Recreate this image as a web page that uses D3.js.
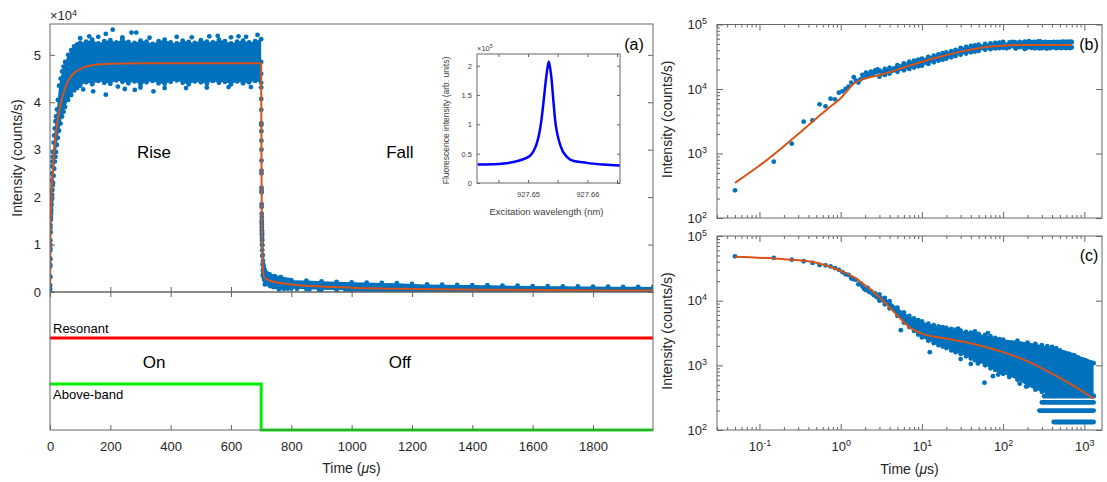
<!DOCTYPE html>
<html>
<head>
<meta charset="utf-8">
<script src="https://cdn.jsdelivr.net/npm/d3@7/dist/d3.min.js"></script>
<style>
html, body { margin: 0; padding: 0; background: #fff; }
svg { display: block; font-family: "Liberation Sans", Arial, Helvetica, sans-serif; }
</style>
</head>
<body>
<svg id="fig" width="1107" height="482"></svg>
<script>
// ---------------- data ----------------
// Rise (laser on at t = 0): first bins, 0.1 us apart
const riseEarlyT = [0.05,0.15,0.25,0.35,0.45,0.55,0.65,0.75,0.85,0.95,1.05,1.15,1.25,1.35,1.45,1.55,1.65,1.75,1.85,1.95,2.05,2.15,2.25,2.35,2.45,2.55,2.65,2.75,2.85,2.95];
const riseEarlyV = [269,747,1419,3110,3270,5790,5380,7070,6920,8770,9200,10000,10900,12600,15200,13500,12600,14100,16500,15200,17900,15900,16800,18500,17000,18000,19500,18300,20200,18800];
// Rise: spread (upper / lower edge) of the dense part of the trace
const riseBandT  = [3,3.5,4,5,6,7,8,9,10,12,14,16,18,20,23,26,30,35,40,45,50,60,70,80,90,100,
                    120,140,160,180,200,220,240,260,280,300,320,340,360,380,400,420,440,460,480,500,520,540,560,580,600,620,640,660,680,700];
const riseBandHi = [19500,20500,21500,23500,25000,26500,27500,28500,29500,31500,33000,34500,36000,37000,38500,40500,43500,45000,46500,47500,48500,50000,51000,51800,52200,52500,
                    52800,53200,52400,52900,53100,52600,53300,52700,52500,53000,52800,52300,52900,53200,52600,52400,53000,52700,52500,53100,52800,52600,53200,52900,52400,52800,53000,52600,52900,53300];
const riseBandLo = [15500,16500,17300,18500,19500,20500,21500,22500,23000,24500,26000,27500,28500,29500,31000,32500,34000,35500,37000,38000,39000,40500,41500,42500,43000,43500,
                    44200,43800,44500,44100,43900,44600,44300,44000,44400,43700,44200,44500,44000,43900,44300,44600,44100,43800,44400,44200,43900,44500,44100,44300,43800,44400,44000,44200,44500,44100];
const riseOutT = [100,130,160,185,208,240,270,286,330,420,470,528,556,600,625,650,688,110,143,185,225,248,281,300,343,380,451,520,592,666];
const riseOutV = [53500,53900,53800,54400,55300,53700,54700,54700,53600,53800,53700,53900,54000,53700,53900,53800,54200,42700,42300,41600,43300,42800,42600,43100,42300,43000,43000,43100,43200,43200];
// Rise fit
const riseFitT = [0.05,0.1,0.2,0.3,0.5,0.7,1,1.5,2,3,5,7,10,15,20,30,50,70,100,150,200,300,700];
const riseFitV = [350,650,1300,2000,3500,5000,7200,12500,14500,16500,20000,23000,26500,30500,33500,38000,43000,45500,47000,47900,48100,48200,48200];

// Fall (resonant laser kept on, above-band laser off at t = 700 us), time after switch-off
const switchOff = 700;
const fallEarlyT = [0.05,0.15,0.25,0.35,0.45,0.55,0.65,0.75,0.85,0.95,1.05,1.15,1.25,1.35,1.45,1.55,1.65,1.75,1.85,1.95,2.05,2.15,2.25,2.35,2.45,2.55,2.65,2.75,2.85,2.95];
const fallEarlyV = [48500,46000,43100,40700,38400,35600,35200,33900,31900,30000,27700,25600,25000,22000,21400,21000,17900,18500,16500,15100,14600,15800,13600,14200,12900,12200,13000,11500,12000,10800];
const fallBandT  = [3,3.5,4,5,6,7,8,9,10,12,14,16,18,20,23,26,30,35,40,45,50,60,70,80,90,100,150,200,250,300,350,400,450,500,550,600,650,700,750,800,850,900,950,1000,1050,1100,1150,1200,1250,1300];
const fallBandHi = [12500,11000,9800,7800,6600,5800,5300,5000,4800,4400,4200,4000,3900,3800,3650,3550,3450,3300,3200,3100,3050,2950,2800,2650,2550,2500,2400,2250,2150,2050,1980,1920,1850,1700,1600,1550,1500,1450,1420,1350,1320,1250,1230,1200,1180,1150,1120,1100,1090,1080];
const fallBandLo = [10000,8800,7600,5800,4600,3900,3400,3000,2700,2400,2200,2050,1950,1850,1700,1600,1500,1380,1280,1200,1120,1000,900,850,790,740,600,480,420,390,360,345,340,340,340,340,340,340,340,340,340,340,340,340,340,340,340,340,340,340];
const fallOutT = [5.5,12.5,28,30,40,45,49,59,65,75,87,119,160,192];
const fallOutV = [3500,1600,3700,1250,1050,3350,1070,540,3150,680,720,660,520,470];
// Quantised low-count levels at long delays
const fallLevelV     = [333,267,200,133];
const fallLevelStart = [320,300,280,420];
const fallLevelEnd   = [1300,1300,1300,1300];
// Fall fit
const fallFitT = [0.05,0.2,0.5,1,1.5,2,3,4,5,7,10,20,50,100,200,300,500,700,1000,1300];
const fallFitV = [47800,43700,38500,29000,22500,17200,11300,7900,5900,3900,3100,2600,2050,1600,1150,900,640,500,380,305];

// Laser sequence
const resonantT = [0,1999];
const resonantLevel = [2,2];
const aboveBandT = [0,700,700,1999];
const aboveBandLevel = [1,1,0,0];

// Inset: excitation spectrum
const insetWl = [927.6415,927.6459,927.6487,927.6504,927.6512,927.6518,927.6522,927.6526,927.6531,927.6535,927.6539,927.6543,927.6547,927.6553,927.656,927.6571,927.6599,927.6627,927.6655];
const insetV  = [31400,33100,38800,46900,60000,80000,103000,137000,183000,207000,183000,137000,97000,69000,51500,40000,34300,31400,29700];

// Tick values / labels
const mainTimeTicks = [0,200,400,600,800,1000,1200,1400,1600,1800];
const mainIntensityTicks = [0,1,2,3,4,5];            // x 10^4
const insetWlTicks = [927.645,927.65,927.655,927.66,927.665];
const insetWlLabels = ['','927.65','','927.66',''];
const insetIntensityTicks = [0,0.5,1,1.5,2];          // x 10^5
const logTimeTicks = [0.1,1,10,100,1000];
const logIntensityTicks = [100,1000,10000,100000];

// ---------------- drawing ----------------
const BLUE = '#0072BD', ORANGE = '#D95319', AXIS = '#666', TXT = '#262626';
const FONT = '"Liberation Sans", Arial, Helvetica, sans-serif';
const R = 2.4;
const svg = d3.select('#fig');
const defs = svg.append('defs');

function clip(id, x, y, w, h) {
  defs.append('clipPath').attr('id', id).append('rect')
    .attr('x', x).attr('y', y).attr('width', w).attr('height', h);
  return 'url(#' + id + ')';
}

function styleAxis(g, size, color) {
  g.select('.domain').remove();
  g.attr('font-family', FONT).attr('font-size', size);
  g.selectAll('.tick line').attr('stroke', AXIS).attr('stroke-width', 1);
  g.selectAll('.tick text').attr('fill', color || TXT);
}

function powLabels(g) {
  g.selectAll('.tick text').each(function (d) {
    const e = Math.round(Math.log10(d));
    const t = d3.select(this);
    t.text(null);
    t.append('tspan').text('10');
    t.append('tspan').attr('dy', '-0.55em').attr('font-size', 9).text(e < 0 ? '-' + (-e) : String(e));
  });
}

function drawCloud(g, x, y, off, s) {
  const band = s.bandT.map((t, i) => ({ t: t + off, hi: s.bandHi[i], lo: s.bandLo[i] }));
  g.append('path').datum(band).attr('fill', BLUE)
    .attr('d', d3.area().x(d => x(d.t)).y0(d => y(d.lo)).y1(d => y(d.hi)));
  if (s.levelV) {
    g.selectAll(null).data(s.levelV.map((v, i) => ({ v, a: s.levelStart[i] + off, b: s.levelEnd[i] + off })))
      .join('line')
      .attr('x1', d => x(d.a)).attr('x2', d => x(d.b))
      .attr('y1', d => y(d.v)).attr('y2', d => y(d.v))
      .attr('stroke', BLUE).attr('stroke-width', 2 * R).attr('stroke-linecap', 'round');
  }
  const pts = [];
  band.forEach(d => { pts.push({ t: d.t, v: d.hi }); pts.push({ t: d.t, v: d.lo }); });
  s.earlyT.forEach((t, i) => pts.push({ t: t + off, v: s.earlyV[i] }));
  s.outT.forEach((t, i) => pts.push({ t: t + off, v: s.outV[i] }));
  g.selectAll(null).data(pts).join('circle')
    .attr('cx', d => x(d.t)).attr('cy', d => y(d.v)).attr('r', R).attr('fill', BLUE);
}

function drawFit(g, x, y, rows) {
  g.append('path').datum(rows).attr('fill', 'none').attr('stroke', ORANGE)
    .attr('stroke-width', 2).attr('stroke-linejoin', 'round')
    .attr('d', d3.line().x(d => x(d.t)).y(d => y(d.v)).curve(d3.curveMonotoneX));
}

const riseSet = { earlyT: riseEarlyT, earlyV: riseEarlyV, bandT: riseBandT, bandHi: riseBandHi, bandLo: riseBandLo, outT: riseOutT, outV: riseOutV };
const fallSet = { earlyT: fallEarlyT, earlyV: fallEarlyV, bandT: fallBandT, bandHi: fallBandHi, bandLo: fallBandLo, outT: fallOutT, outV: fallOutV,
                  levelV: fallLevelV, levelStart: fallLevelStart, levelEnd: fallLevelEnd };
const riseFit = riseFitT.map((t, i) => ({ t, v: riseFitV[i] }));
const fallFit = fallFitT.map((t, i) => ({ t, v: fallFitV[i] }));

function timeLabel(cx, y) {
  const t = svg.append('text').attr('x', cx).attr('y', y).attr('text-anchor', 'middle')
    .attr('font-size', 14).attr('fill', TXT);
  t.append('tspan').text('Time (');
  t.append('tspan').attr('font-style', 'italic').text('\u03bc');
  t.append('tspan').text('s)');
}
function yLabel(x, cy, txt, size) {
  svg.append('text').attr('transform', `translate(${x},${cy}) rotate(-90)`)
    .attr('text-anchor', 'middle').attr('font-size', size || 14).attr('fill', TXT).text(txt);
}

// ===== Panel (a): linear time trace =====
const L = 50, Rt = 653, T = 24, M = 292, B = 430;
const xMain = d3.scaleLinear([0, 1999], [L, Rt]);
const yMain = d3.scaleLinear([0, 56500], [M, T]);
const yPulse = d3.scaleLinear([0, 3], [B, M]);

const gA = svg.append('g').attr('clip-path', clip('clipA', L, T, Rt - L, M - T));
drawCloud(gA, xMain, yMain, 0, riseSet);
drawCloud(gA, xMain, yMain, switchOff, fallSet);
drawFit(gA, xMain, yMain, riseFit.concat(fallFit.map(d => ({ t: d.t + switchOff, v: d.v }))));

svg.append('g').attr('transform', `translate(${L},0)`)
  .call(d3.axisLeft(yMain).tickValues(mainIntensityTicks.map(v => v * 1e4)).tickSize(-5).tickPadding(9).tickFormat(v => v / 1e4))
  .call(g => styleAxis(g, 13));
svg.append('g').attr('transform', `translate(${Rt},0)`)
  .call(d3.axisRight(yMain).tickValues(mainIntensityTicks.map(v => v * 1e4)).tickSize(-5).tickFormat(''))
  .call(g => styleAxis(g, 13));
svg.append('g').attr('transform', `translate(0,${M})`)
  .call(d3.axisBottom(xMain).tickValues(mainTimeTicks).tickSize(-5).tickFormat(''))
  .call(g => styleAxis(g, 13));
svg.append('rect').attr('x', L).attr('y', T).attr('width', Rt - L).attr('height', M - T)
  .attr('fill', 'none').attr('stroke', AXIS).attr('stroke-width', 1);

// exponent marker
const ex4 = svg.append('text').attr('x', L).attr('y', 20).attr('font-size', 13).attr('fill', TXT);
ex4.append('tspan').text('\u00d710');
ex4.append('tspan').attr('dy', '-0.5em').attr('font-size', 9).text('4');

yLabel(22, 158, 'Intensity (counts/s)');
svg.append('text').attr('x', 634).attr('y', 50).attr('text-anchor', 'middle').attr('font-size', 16).attr('fill', '#000').text('(a)');

// phase annotations
const phaseText = ['Rise', 'Fall'];
const phaseT = [345, 1160];
svg.selectAll(null).data(phaseText).join('text')
  .attr('x', (d, i) => xMain(phaseT[i])).attr('y', 158).attr('text-anchor', 'middle')
  .attr('font-size', 17).attr('fill', '#000').text(d => d);

// ----- laser sequence -----
const gP = svg.append('g');
const seqLine = d3.line().x(d => xMain(d.t)).y(d => yPulse(d.v));
gP.append('path').datum(resonantT.map((t, i) => ({ t, v: resonantLevel[i] })))
  .attr('fill', 'none').attr('stroke', '#ff0000').attr('stroke-width', 3).attr('d', seqLine);
gP.append('path').datum(aboveBandT.map((t, i) => ({ t, v: aboveBandLevel[i] })))
  .attr('fill', 'none').attr('stroke', '#00ee00').attr('stroke-width', 3).attr('d', seqLine);
svg.append('text').attr('x', 53).attr('y', yPulse(resonantLevel[0]) - 5).attr('font-size', 13).attr('fill', '#000').text('Resonant');
svg.append('text').attr('x', 53).attr('y', yPulse(aboveBandLevel[0]) + 15).attr('font-size', 13).attr('fill', '#000').text('Above-band');
const stateText = ['On', 'Off'];
svg.selectAll(null).data(stateText).join('text')
  .attr('x', (d, i) => xMain(phaseT[i])).attr('y', 368).attr('text-anchor', 'middle')
  .attr('font-size', 17).attr('fill', '#000').text(d => d);

svg.append('g').attr('transform', `translate(0,${M})`)
  .call(d3.axisTop(xMain).tickValues(mainTimeTicks).tickSize(-5).tickFormat(''))
  .call(g => styleAxis(g, 13));
svg.append('g').attr('transform', `translate(0,${B})`)
  .call(d3.axisBottom(xMain).tickValues(mainTimeTicks).tickSize(-5).tickPadding(12).tickFormat(d3.format('d')))
  .call(g => styleAxis(g, 13));
svg.append('rect').attr('x', L).attr('y', M).attr('width', Rt - L).attr('height', B - M)
  .attr('fill', 'none').attr('stroke', AXIS).attr('stroke-width', 1);
timeLabel((L + Rt) / 2, 473);

// ----- inset: excitation spectrum -----
const iL = 477, iR = 620, iT = 54, iB = 183;
const xIn = d3.scaleLinear([927.6414, 927.6655], [iL, iR]);
const yIn = d3.scaleLinear([0, 220000], [iB, iT]);
svg.append('rect').attr('x', iL).attr('y', iT).attr('width', iR - iL).attr('height', iB - iT).attr('fill', '#fff');
const gI = svg.append('g').attr('clip-path', clip('clipI', iL, iT, iR - iL, iB - iT));
gI.append('path').datum(insetWl.map((w, i) => ({ w, v: insetV[i] })))
  .attr('fill', 'none').attr('stroke', '#0000ff').attr('stroke-width', 2.5).attr('stroke-linejoin', 'round')
  .attr('d', d3.line().x(d => xIn(d.w)).y(d => yIn(d.v)).curve(d3.curveCatmullRom.alpha(0.5)));
const INS = '#404040';
svg.append('g').attr('transform', `translate(${iL},0)`)
  .call(d3.axisLeft(yIn).tickValues(insetIntensityTicks.map(v => v * 1e5)).tickSize(-3).tickPadding(5).tickFormat(v => v / 1e5))
  .call(g => styleAxis(g, 7.5, INS));
svg.append('g').attr('transform', `translate(${iR},0)`)
  .call(d3.axisRight(yIn).tickValues(insetIntensityTicks.map(v => v * 1e5)).tickSize(-3).tickFormat(''))
  .call(g => styleAxis(g, 7.5, INS));
svg.append('g').attr('transform', `translate(0,${iB})`)
  .call(d3.axisBottom(xIn).tickValues(insetWlTicks).tickSize(-3).tickPadding(9).tickFormat((d, i) => insetWlLabels[i]))
  .call(g => styleAxis(g, 7.5, INS));
svg.append('g').attr('transform', `translate(0,${iT})`)
  .call(d3.axisTop(xIn).tickValues(insetWlTicks).tickSize(-3).tickFormat(''))
  .call(g => styleAxis(g, 7.5, INS));
svg.append('rect').attr('x', iL).attr('y', iT).attr('width', iR - iL).attr('height', iB - iT)
  .attr('fill', 'none').attr('stroke', AXIS).attr('stroke-width', 1);
const ex5 = svg.append('text').attr('x', iL).attr('y', 51).attr('font-size', 7.5).attr('fill', INS);
ex5.append('tspan').text('\u00d710');
ex5.append('tspan').attr('dy', '-0.5em').attr('font-size', 5.5).text('5');
svg.append('text').attr('x', (iL + iR) / 2 - 2).attr('y', 215).attr('text-anchor', 'middle')
  .attr('font-size', 9.5).attr('fill', INS).text('Excitation wavelength (nm)');
svg.append('text').attr('transform', `translate(449,${(iT + iB) / 2 + 2}) rotate(-90)`).attr('text-anchor', 'middle')
  .attr('font-size', 8.5).attr('fill', INS).text('Fluorescence intensity (arb. units)');

// ===== Panels (b) and (c): log-log =====
const bL = 717, bR = 1102;
const xLog = d3.scaleLog([0.03, 1650], [bL, bR]);
const minorX = xLog.ticks().filter(v => !logTimeTicks.some(m => Math.abs(m - v) / m < 1e-9));

function logPanel(id, top, bottom, set, fit, showX, tag, tagY) {
  const yL = d3.scaleLog([100, 1e5], [bottom, top]);
  const minorY = yL.ticks().filter(v => !logIntensityTicks.some(m => Math.abs(m - v) / m < 1e-9));
  const g = svg.append('g').attr('clip-path', clip(id, bL, top, bR - bL, bottom - top));
  drawCloud(g, xLog, yL, 0, set);
  drawFit(g, xLog, yL, fit);

  svg.append('g').attr('transform', `translate(${bL},0)`)
    .call(d3.axisLeft(yL).tickValues(logIntensityTicks).tickSize(-6).tickPadding(10))
    .call(g2 => { styleAxis(g2, 13); powLabels(g2); });
  svg.append('g').attr('transform', `translate(${bL},0)`)
    .call(d3.axisLeft(yL).tickValues(minorY).tickSize(-3).tickFormat(''))
    .call(g2 => styleAxis(g2, 13));
  svg.append('g').attr('transform', `translate(${bR},0)`)
    .call(d3.axisRight(yL).tickValues(logIntensityTicks).tickSize(-6).tickFormat(''))
    .call(g2 => styleAxis(g2, 13));
  const xb = svg.append('g').attr('transform', `translate(0,${bottom})`)
    .call(d3.axisBottom(xLog).tickValues(logTimeTicks).tickSize(-6).tickPadding(12).tickFormat(showX ? null : ''));
  styleAxis(xb, 13);
  if (showX) powLabels(xb);
  svg.append('g').attr('transform', `translate(0,${bottom})`)
    .call(d3.axisBottom(xLog).tickValues(minorX).tickSize(-3).tickFormat(''))
    .call(g2 => styleAxis(g2, 13));
  svg.append('g').attr('transform', `translate(0,${top})`)
    .call(d3.axisTop(xLog).tickValues(logTimeTicks).tickSize(-6).tickFormat(''))
    .call(g2 => styleAxis(g2, 13));
  svg.append('g').attr('transform', `translate(0,${top})`)
    .call(d3.axisTop(xLog).tickValues(minorX).tickSize(-3).tickFormat(''))
    .call(g2 => styleAxis(g2, 13));
  svg.append('rect').attr('x', bL).attr('y', top).attr('width', bR - bL).attr('height', bottom - top)
    .attr('fill', 'none').attr('stroke', AXIS).attr('stroke-width', 1);
  yLabel(672, (top + bottom) / 2 - 2, 'Intensity (counts/s)');
  svg.append('text').attr('x', 1089).attr('y', tagY).attr('text-anchor', 'middle')
    .attr('font-size', 16).attr('fill', '#000').text(tag);
}

logPanel('clipB', 24.5, 218, riseSet, riseFit, false, '(b)', 50);
logPanel('clipC', 236, 430, fallSet, fallFit, true, '(c)', 261);
timeLabel((bL + bR) / 2, 474);
</script>
</body>
</html>
